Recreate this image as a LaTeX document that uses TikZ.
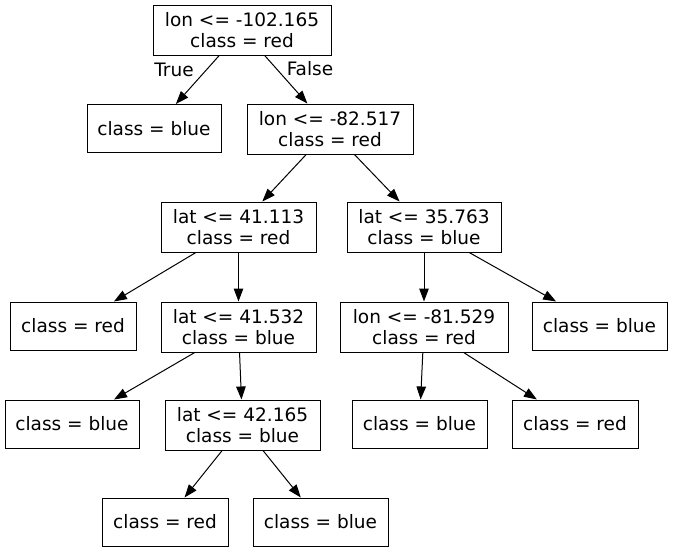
\documentclass[tikz,border=0pt]{standalone}
\usepackage{fontspec}
\setmainfont{DejaVu Sans}
\usetikzlibrary{arrows.meta}
\tikzset{
	treebox/.style={draw,line width=1pt,rectangle,inner sep=0pt,align=center,font=\fontsize{18.5}{21}\selectfont},
	split/.style={treebox,minimum height=50pt},
	leaf/.style={treebox,minimum height=48pt},
	edge/.style={line width=1pt,-{Triangle[length=13pt,width=9.5pt]}},
	edgelabel/.style={font=\fontsize{18.5}{21}\selectfont}
}
\begin{document}
\begin{tikzpicture}[x=1pt,y=-1pt]
	\useasboundingbox (0,0) rectangle (673,552);
	% Wurzel
	\node [split,minimum width=178pt] (root) at (242,30) {lon <= -102.165\\class = red};
	% Ebene 1
	\node [leaf,minimum width=134pt] (blueA) at (154,128.5) {class = blue};
	\node [split,minimum width=166pt] (lonB) at (330,129) {lon <= -82.517\\class = red};
	% Ebene 2
	\node [split,minimum width=155pt] (latC) at (238.5,227) {lat <= 41.113\\class = red};
	\node [split,minimum width=154pt] (latD) at (424,227) {lat <= 35.763\\class = blue};
	% Ebene 3
	\node [leaf,minimum width=126pt] (redE) at (73,326) {class = red};
	\node [split,minimum width=155pt] (latF) at (238.5,327) {lat <= 41.532\\class = blue};
	\node [split,minimum width=168pt] (lonG) at (424,327) {lon <= -81.529\\class = red};
	\node [leaf,minimum width=135pt] (blueH) at (599.5,326) {class = blue};
	% Ebene 4
	\node [leaf,minimum width=134pt] (blueI) at (72,424) {class = blue};
	\node [split,minimum width=155pt] (latJ) at (242.5,425) {lat <= 42.165\\class = blue};
	\node [leaf,minimum width=135pt] (blueK) at (419.5,424) {class = blue};
	\node [leaf,minimum width=126pt] (redL) at (575,424) {class = red};
	% Ebene 5
	\node [leaf,minimum width=126pt] (redM) at (165,522) {class = red};
	\node [leaf,minimum width=135pt] (blueN) at (320.5,522) {class = blue};
	% Kanten
	\draw [edge] (root) -- (blueA);
	\draw [edge] (root) -- (lonB);
	\node [edgelabel] (true) at (174,70) {True};
	\node [edgelabel] (false) at (310,69) {False};
	\draw [edge] (lonB) -- (latC);
	\draw [edge] (lonB) -- (latD);
	\draw [edge] (latC) -- (redE);
	\draw [edge] (latC) -- (latF);
	\draw [edge] (latD) -- (lonG);
	\draw [edge] (latD) -- (blueH);
	\draw [edge] (latF) -- (blueI);
	\draw [edge] (latF) -- (latJ);
	\draw [edge] (lonG) -- (blueK);
	\draw [edge] (lonG) -- (redL);
	\draw [edge] (latJ) -- (redM);
	\draw [edge] (latJ) -- (blueN);
\end{tikzpicture}
\end{document}
